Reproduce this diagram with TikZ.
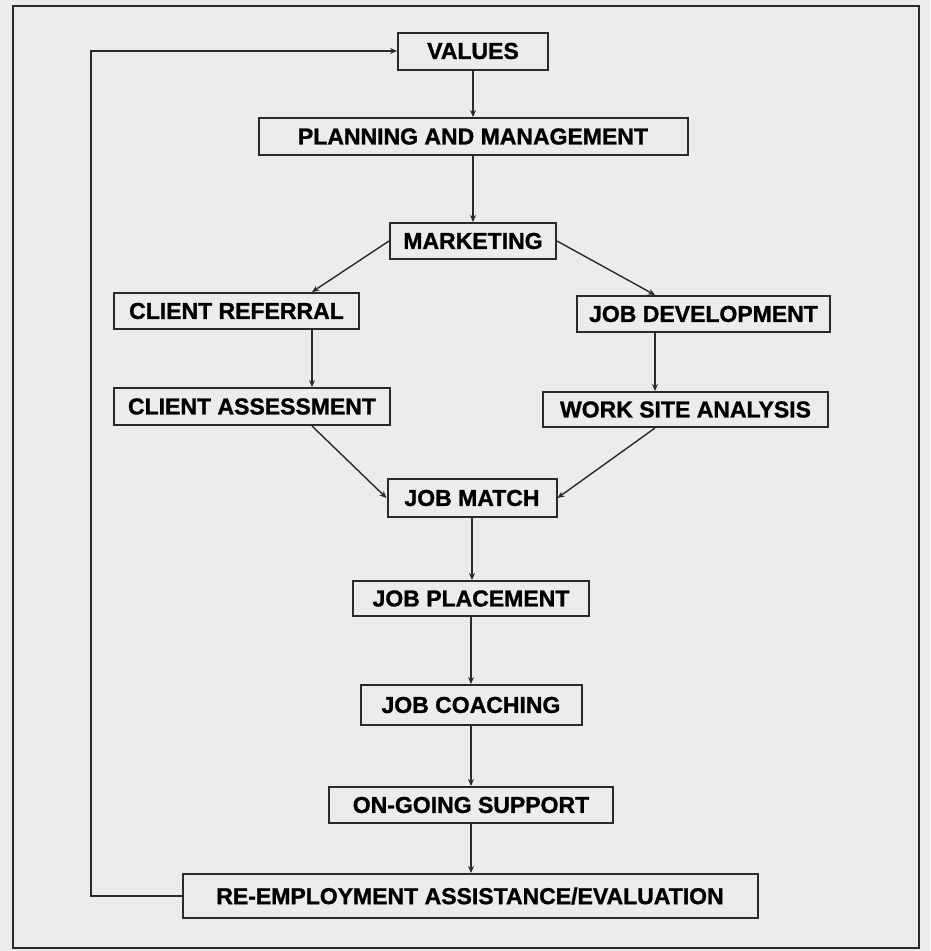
\documentclass[tikz,border=0pt]{standalone}
\usepackage{fontspec}
\setmainfont{Liberation Sans}
\newfontfamily\boxfontSE{Liberation Sans Bold}[FakeBold=1.2]
\usepackage{xcolor}
\definecolor{paperSE}{HTML}{ECECEC}
\definecolor{inkSE}{HTML}{2A2A2A}
\usetikzlibrary{arrows.meta,calc}

\begin{document}
\begin{tikzpicture}[x=1pt,y=-1pt,
  box/.style={draw=inkSE,line width=2pt,fill=paperSE,inner sep=0pt,
    minimum height=37pt,font=\boxfontSE\fontsize{23}{25}\selectfont},
  arr/.style={-{Stealth[length=7pt,width=6pt]},line width=1.4pt,draw=inkSE}]
  \useasboundingbox[fill=paperSE] (0,0) rectangle (930,951);
  \draw[inkSE,line width=2.2pt] (13,6) rectangle (919,948);
  \node[box,minimum width=150pt] (values) at (473,51) {VALUES};
  \node[box,minimum width=429pt] (plan) at (473,136.5)
    {PLANNING AND MANAGEMENT};
  \node[box,minimum width=166pt,minimum height=36pt] (mark) at (473,241)
    {MARKETING};
  \node[box,minimum width=245pt,minimum height=36pt] (clientref) at (236.5,311)
    {CLIENT REFERRAL};
  \node[box,minimum width=253pt,minimum height=36pt] (jobdev) at (703.5,314)
    {JOB DEVELOPMENT};
  \node[box,minimum width=276pt] (clientass) at (252,406.5)
    {CLIENT ASSESSMENT};
  \node[box,minimum width=285pt,minimum height=35pt] (worksite) at (685.5,409.5)
    {WORK SITE ANALYSIS};
  \node[box,minimum width=169pt,minimum height=38pt] (match) at (472,498)
    {JOB MATCH};
  \node[box,minimum width=236pt,minimum height=35pt] (place) at (471,598.5)
    {JOB PLACEMENT};
  \node[box,minimum width=221pt,minimum height=40pt] (coach) at (471,705)
    {JOB COACHING};
  \node[box,minimum width=284pt,minimum height=36pt] (ongo) at (471,805)
    {ON-GOING SUPPORT};
  \node[box,minimum width=575pt,minimum height=44pt] (reemp) at (470,896)
    {RE-EMPLOYMENT ASSISTANCE/EVALUATION};
  \coordinate (lft) at (312,0);
  \coordinate (rgt) at (655,0);
  \coordinate (loop) at (91,0);
  \draw[arr] (values.south)--(values.south |- plan.north);
  \draw[arr] (plan.south)--(plan.south |- mark.north);
  \draw[arr] (mark.west)--(clientref.north -| lft);
  \draw[arr] (mark.east)--(jobdev.north -| rgt);
  \draw[arr] (clientref.south -| lft)--(clientass.north -| lft);
  \draw[arr] (jobdev.south -| rgt)--(worksite.north -| rgt);
  \draw[arr] (clientass.south -| lft)--(match.west);
  \draw[arr] (worksite.south -| rgt)--(match.east);
  \draw[arr] (match.south)--(match.south |- place.north);
  \draw[arr] (place.south)--(place.south |- coach.north);
  \draw[arr] (coach.south)--(coach.south |- ongo.north);
  \draw[arr] (ongo.south)--(ongo.south |- reemp.north);
  \draw[arr] (reemp.west)--(reemp.west -| loop) |- (values.west);
\end{tikzpicture}
\end{document}
